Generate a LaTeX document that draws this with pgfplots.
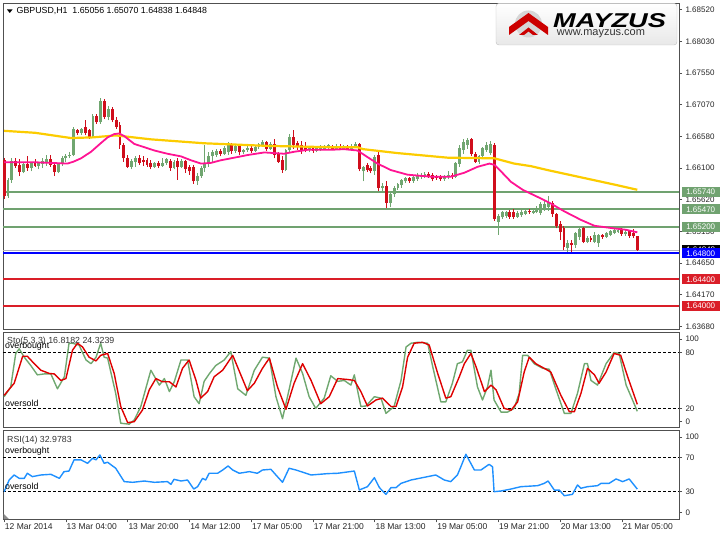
\documentclass[border=0pt]{standalone}
\usepackage{pgfplots}
\pgfplotsset{compat=1.18}
\usepackage{pgfplotstable}
\usepackage{fontspec}
\setmainfont{Liberation Sans}

\definecolor{upg}{RGB}{112,166,112}
\definecolor{dnr}{RGB}{208,14,28}
\definecolor{maY}{RGB}{252,204,0}
\definecolor{maP}{RGB}{255,20,147}
\definecolor{lvg}{RGB}{112,162,112}
\definecolor{lvb}{RGB}{0,0,255}
\definecolor{lvr}{RGB}{218,30,40}
\definecolor{frm}{RGB}{80,80,80}
\definecolor{stk}{RGB}{112,168,112}
\definecolor{std}{RGB}{222,0,0}
\definecolor{rsi}{RGB}{30,144,255}
\definecolor{bidg}{RGB}{175,175,190}

% rising candles (close >= open)
\pgfplotstableread{
x o h l c
1 1.6567 1.6595 1.6565 1.6592
2 1.6592 1.6625 1.6588 1.6620
5 1.6604 1.6618 1.6602 1.6616
7 1.6610 1.6620 1.6605 1.6618
9 1.6614 1.6620 1.6608 1.6617
10 1.6617 1.6626 1.6610 1.6620
11 1.6620 1.6630 1.6614 1.6624
14 1.6604 1.6618 1.6602 1.6616
15 1.6616 1.6628 1.6614 1.6625
16 1.6625 1.6632 1.6620 1.6628
17 1.6628 1.6635 1.6625 1.6630
18 1.6630 1.6673 1.6628 1.6670
20 1.6663 1.6672 1.6660 1.6670
23 1.6658 1.6693 1.6656 1.6690
25 1.6680 1.6717 1.6678 1.6712
27 1.6688 1.6705 1.6683 1.6700
33 1.6612 1.6624 1.6608 1.6620
34 1.6620 1.6628 1.6612 1.6625
39 1.6612 1.6620 1.6610 1.6617
41 1.6614 1.6625 1.6612 1.6618
42 1.6618 1.6626 1.6615 1.6623
44 1.6610 1.6622 1.6608 1.6619
46 1.6612 1.6624 1.6610 1.6620
50 1.6590 1.6602 1.6585 1.6598
51 1.6598 1.6613 1.6595 1.6610
52 1.6610 1.6645 1.6604 1.6618
53 1.6618 1.6635 1.6612 1.6628
54 1.6628 1.6638 1.6620 1.6634
55 1.6630 1.6640 1.6627 1.6636
57 1.6632 1.6644 1.6630 1.6640
58 1.6634 1.6650 1.6630 1.6645
60 1.6636 1.6646 1.6633 1.6643
62 1.6634 1.6640 1.6631 1.6638
63 1.6638 1.6644 1.6635 1.6641
65 1.6636 1.6645 1.6634 1.6642
66 1.6642 1.6648 1.6639 1.6646
67 1.6646 1.6653 1.6643 1.6650
69 1.6640 1.6650 1.6638 1.6647
73 1.6607 1.6640 1.6605 1.6637
74 1.6637 1.6662 1.6635 1.6658
79 1.6637 1.6644 1.6634 1.6641
81 1.6636 1.6643 1.6634 1.6640
82 1.6638 1.6645 1.6636 1.6642
83 1.6640 1.6646 1.6638 1.6643
84 1.6641 1.6647 1.6639 1.6645
86 1.6640 1.6647 1.6638 1.6644
88 1.6640 1.6646 1.6638 1.6643
90 1.6640 1.6647 1.6638 1.6644
91 1.6644 1.6650 1.6641 1.6646
93 1.6605 1.6613 1.6590 1.6611
96 1.6605 1.6630 1.6600 1.6627
98 1.6580 1.6588 1.6575 1.6583
100 1.6557 1.6575 1.6550 1.6570
101 1.6570 1.6582 1.6566 1.6580
102 1.6580 1.6588 1.6577 1.6585
103 1.6584 1.6594 1.6580 1.6592
104 1.6590 1.6597 1.6587 1.6594
106 1.6591 1.6599 1.6588 1.6596
107 1.6594 1.6602 1.6591 1.6599
108 1.6597 1.6603 1.6594 1.6600
109 1.6598 1.6604 1.6595 1.6601
114 1.6594 1.6599 1.6591 1.6597
115 1.6596 1.6606 1.6593 1.6600
117 1.6597 1.6620 1.6595 1.6617
118 1.6617 1.6645 1.6612 1.6640
119 1.6638 1.6654 1.6632 1.6650
120 1.6645 1.6656 1.6640 1.6653
123 1.6620 1.6630 1.6617 1.6628
124 1.6628 1.6642 1.6625 1.6640
125 1.6638 1.6650 1.6635 1.6645
126 1.6633 1.6652 1.6630 1.6646
128 1.6528 1.6540 1.6508 1.6537
129 1.6535 1.6545 1.6532 1.6543
130 1.6537 1.6545 1.6534 1.6542
133 1.6536 1.6544 1.6534 1.6541
134 1.6538 1.6546 1.6536 1.6543
135 1.6540 1.6547 1.6538 1.6544
137 1.6542 1.6548 1.6540 1.6545
138 1.6543 1.6552 1.6541 1.6547
139 1.6542 1.6558 1.6538 1.6555
140 1.6548 1.6562 1.6545 1.6555
141 1.6550 1.6567 1.6545 1.6558
146 1.6488 1.6500 1.6482 1.6496
148 1.6492 1.6513 1.6488 1.6510
149 1.6505 1.6520 1.6500 1.6517
151 1.6498 1.6506 1.6495 1.6503
153 1.6497 1.6512 1.6495 1.6508
154 1.6495 1.6510 1.6490 1.6507
156 1.6505 1.6513 1.6503 1.6510
157 1.6508 1.6516 1.6506 1.6513
158 1.6511 1.6519 1.6509 1.6515
159 1.6513 1.6519 1.6511 1.6516
161 1.6510 1.6515 1.6507 1.6512
}\upC

% falling candles (close < open)
\pgfplotstableread{
x o h l c
0 1.6622 1.6625 1.6563 1.6567
3 1.6620 1.6626 1.6610 1.6614
4 1.6614 1.6624 1.6598 1.6604
6 1.6616 1.6628 1.6606 1.6610
8 1.6618 1.6624 1.6612 1.6614
12 1.6624 1.6630 1.6612 1.6615
13 1.6615 1.6618 1.6598 1.6604
19 1.6668 1.6670 1.6660 1.6663
21 1.6672 1.6684 1.6660 1.6664
22 1.6668 1.6670 1.6655 1.6658
24 1.6690 1.6693 1.6678 1.6680
26 1.6712 1.6715 1.6685 1.6688
28 1.6700 1.6703 1.6680 1.6683
29 1.6683 1.6688 1.6670 1.6673
30 1.6675 1.6680 1.6640 1.6645
31 1.6645 1.6648 1.6620 1.6625
32 1.6625 1.6630 1.6610 1.6612
35 1.6625 1.6630 1.6615 1.6618
36 1.6622 1.6628 1.6614 1.6620
37 1.6622 1.6626 1.6612 1.6615
38 1.6618 1.6622 1.6608 1.6612
40 1.6617 1.6621 1.6610 1.6614
43 1.6620 1.6624 1.6606 1.6610
45 1.6620 1.6626 1.6592 1.6612
47 1.6620 1.6623 1.6603 1.6608
48 1.6612 1.6615 1.6600 1.6605
49 1.6612 1.6615 1.6586 1.6590
56 1.6636 1.6640 1.6628 1.6632
59 1.6645 1.6648 1.6632 1.6636
61 1.6643 1.6646 1.6630 1.6634
64 1.6641 1.6644 1.6633 1.6636
68 1.6650 1.6652 1.6636 1.6640
70 1.6647 1.6655 1.6625 1.6630
71 1.6632 1.6635 1.6618 1.6620
72 1.6622 1.6628 1.6603 1.6607
75 1.6658 1.6668 1.6640 1.6645
76 1.6648 1.6652 1.6638 1.6642
77 1.6645 1.6652 1.6632 1.6636
78 1.6640 1.6650 1.6634 1.6637
80 1.6641 1.6644 1.6633 1.6636
85 1.6643 1.6646 1.6637 1.6640
87 1.6644 1.6647 1.6637 1.6640
89 1.6643 1.6646 1.6637 1.6640
92 1.6646 1.6648 1.6605 1.6608
94 1.6614 1.6618 1.6604 1.6607
95 1.6610 1.6613 1.6602 1.6605
97 1.6630 1.6637 1.6575 1.6580
99 1.6583 1.6590 1.6549 1.6557
105 1.6594 1.6597 1.6588 1.6591
110 1.6601 1.6604 1.6595 1.6598
111 1.6600 1.6603 1.6590 1.6594
112 1.6597 1.6600 1.6592 1.6595
113 1.6597 1.6600 1.6591 1.6594
116 1.6600 1.6603 1.6594 1.6597
121 1.6654 1.6656 1.6628 1.6632
122 1.6632 1.6635 1.6618 1.6620
127 1.6645 1.6648 1.6529 1.6532
131 1.6543 1.6546 1.6533 1.6536
132 1.6542 1.6548 1.6533 1.6536
136 1.6545 1.6547 1.6540 1.6543
142 1.6556 1.6560 1.6536 1.6540
143 1.6540 1.6542 1.6518 1.6521
144 1.6525 1.6530 1.6500 1.6512
145 1.6518 1.6522 1.6485 1.6490
147 1.6495 1.6500 1.6482 1.6492
150 1.6518 1.6520 1.6495 1.6498
152 1.6503 1.6506 1.6497 1.6500
155 1.6507 1.6510 1.6502 1.6505
160 1.6516 1.6518 1.6507 1.6510
162 1.6514 1.6516 1.6504 1.6507
163 1.6510 1.6517 1.6503 1.6506
164 1.65056 1.65070 1.64838 1.64848
}\dnC

\pgfplotsset{
  panel/.style={
    anchor=south west, scale only axis, width=676pt,
    xmin=-0.3, xmax=174.8,
    axis line style={draw=frm, line width=0.8pt},
    ytick pos=right, yticklabel pos=right,
    tick align=outside, major tick length=3pt,
    tick style={draw=frm, line width=0.6pt},
    /pgf/number format/assume math mode=true,
    tick label style={font=\fontsize{8}{9}\selectfont, text=black!85},
  },
  mainlim/.style={at={(3pt,207pt)}, height=326pt, ymin=1.63644, ymax=1.68622},
  lvl/.style={dash pattern=on 3pt off 2pt, black, line width=0.8pt},
}

\begin{document}
\begin{tikzpicture}[x=1pt,y=1pt]
\path (0,0) rectangle (720,536);

% ---------------- main price panel: frame, scale, levels ----------------
\begin{axis}[panel, mainlim,
  xtick=\empty,
  ytick={1.6368,1.6417,1.6465,1.6513,1.6562,1.6610,1.6658,1.6707,1.6755,1.6803,1.6852},
  yticklabels={1.63680,1.64170,1.64650,1.65130,1.65620,1.66100,1.66580,1.67070,1.67550,1.68030,1.68520},
]
\addplot[draw=lvg, line width=2pt] coordinates {(-0.3,1.6574) (174.8,1.6574)};
\addplot[draw=lvg, line width=2pt] coordinates {(-0.3,1.6547) (174.8,1.6547)};
\addplot[draw=lvg, line width=2pt] coordinates {(-0.3,1.6520) (174.8,1.6520)};
\addplot[draw=bidg, line width=1.3pt] coordinates {(-0.3,1.64848) (174.8,1.64848)};
\addplot[draw=lvb, line width=2pt] coordinates {(-0.3,1.6480) (174.8,1.6480)};
\addplot[draw=lvr, line width=2pt] coordinates {(-0.3,1.6440) (174.8,1.6440)};
\addplot[draw=lvr, line width=2pt] coordinates {(-0.3,1.6400) (174.8,1.6400)};
\coordinate (g1) at (axis cs:174.8,1.6574);
\coordinate (g2) at (axis cs:174.8,1.6547);
\coordinate (g3) at (axis cs:174.8,1.6520);
\coordinate (bk) at (axis cs:174.8,1.64848);
\coordinate (b1) at (axis cs:174.8,1.6480);
\coordinate (r1) at (axis cs:174.8,1.6440);
\coordinate (r2) at (axis cs:174.8,1.6400);
\end{axis}

% ---------------- main price panel: candles and averages ----------------
\begin{axis}[panel, mainlim, hide axis]
\addplot[draw=upg, line width=1pt, quiver={u=0, v=\thisrow{h}-\thisrow{l}}]
  table[x=x, y=l] {\upC};
\addplot[draw=dnr, line width=1pt, quiver={u=0, v=\thisrow{h}-\thisrow{l}}]
  table[x=x, y=l] {\dnC};
\addplot[draw=upg, line width=2.9pt, quiver={u=0, v=\thisrow{c}-\thisrow{o}+0.00003}]
  table[x=x, y=o] {\upC};
\addplot[draw=dnr, line width=2.9pt, quiver={u=0, v=\thisrow{o}-\thisrow{c}+0.00003}]
  table[x=x, y=c] {\dnC};
\addplot[maY, line width=2.2pt, line join=round] coordinates {
(0,1.6667)(8,1.6664)(17.3,1.6656)(23,1.6657)(28.9,1.6660)(32,1.6658)(38,1.6654)
(51.8,1.6648)(60,1.6646)(68.2,1.6644)(84.6,1.6642)(91.5,1.6642)(93,1.6639)
(101.9,1.6633)(114.9,1.6626)(127,1.6625)(132.1,1.6617)(136.5,1.6613)(140.8,1.6607)
(149.4,1.6596)(158,1.6585)(164,1.6577)};
\addplot[maP, line width=1.8pt, line join=round] coordinates {
(0,1.6619)(8,1.6619)(16.4,1.6617)(18,1.6620)(19.9,1.6625)(22.5,1.6635)(25,1.6648)
(26.8,1.6657)(28.5,1.6662)(29.8,1.6663)(31.1,1.6659)(32.4,1.6653)(33.7,1.6647)
(36.3,1.6642)(38.9,1.6637)(42.3,1.6632)(45.8,1.6628)(48.4,1.6622)(51,1.6617)
(53.5,1.6618)(56.1,1.6622)(59.6,1.6626)(63,1.6630)(67.4,1.6634)(70,1.6633)
(72.5,1.6632)(75.1,1.6635)(78.6,1.6638)(84.6,1.6638)(88,1.6639)(91.5,1.6637)
(93.3,1.6630)(96.7,1.6617)(100.2,1.6607)(104.5,1.6600)(110.5,1.6597)(115.7,1.6597)
(119.2,1.6603)(122.6,1.6612)(125.7,1.6617)(127,1.6615)(128.7,1.6605)(131.3,1.6589)
(134.3,1.6577)(138.2,1.6566)(141.6,1.6556)(145.1,1.6544)(149.4,1.6531)(152.9,1.6522)
(158,1.6518)(161,1.6516)(164,1.6512)};
\end{axis}

% ---------------- stochastic panel ----------------
\begin{axis}[panel,
  at={(3pt,108.3pt)}, height=95.4pt,
  ymin=-0.8, ymax=101.75,
  xtick=\empty,
  ytick={5.6,20,80,94.3}, yticklabels={0,20,80,100},
]
\addplot[lvl] coordinates {(-0.3,80) (174.8,80)};
\addplot[lvl] coordinates {(-0.3,20) (174.8,20)};
\addplot[stk, line width=1.4pt, line join=round] coordinates {
(0,32.5)(1.7,43)(3,79)(3.9,84)(5.2,75)(6.9,66)(8.6,56)(10.4,57)(12.1,57)(13.8,41)
(15.6,54)(16.8,90)(17.7,90)(19.4,88)(21.2,72)(22.5,68)(23.8,75)(25,90)(25.9,75)
(26.8,74)(28.9,36)(30.2,4)(32.4,3)(33.7,7.5)(35.4,22)(38,61)(40.2,45)(41.5,52)
(42.8,38)(44.1,49)(45.8,72)(47.5,72)(49.2,32.5)(50.5,25)(51.8,49)(53.1,57)(54.8,66)
(57,72)(58.7,81)(60.5,41)(62.6,34)(64.8,61)(66.9,75)(68.7,74)(70.4,32.5)(72.1,9)
(73.8,40)(75.6,74)(77.3,57.5)(79,32.5)(80.7,20)(82.9,31)(84.6,55)(86.4,49)(88.1,50)
(89.8,45)(90.7,56)(92.4,22)(93.7,22.5)(95.9,32.5)(97.6,31)(98.9,14.6)(101,22)
(102.8,50)(104.1,86)(105.4,90)(107.1,91)(109.7,90)(111,65)(113.1,27)(114.4,27)
(116.1,47)(117.4,68)(118.7,70)(120,82.5)(120.9,82.5)(122.6,43)(123.9,29)(125.2,43)
(126.1,61)(126.9,29)(128.7,16)(130.4,16)(132.1,20)(133.4,36)(134.3,77)(135.6,77)
(137.3,68)(139.5,63)(141.2,62)(143.3,36)(145.1,14.6)(146.8,14.6)(148.5,36)
(150.3,68)(151.1,68)(152,50)(153.7,45)(155.9,68)(158,80)(159.3,79)(161.1,45)
(162.4,32.5)(164,16.8)};
\addplot[std, line width=1.4pt, line join=round] coordinates {
(0,34)(2.6,47)(4.8,76)(6,76)(7.8,68)(9.5,61)(11.7,57.5)(13,57)(14.7,50)(16,52)
(17.7,82.5)(19,90)(20.3,86)(22,75)(23.8,71)(25,77)(26.8,79)(28.5,57.5)(30.2,22)
(32,4.6)(33.7,5.7)(35.8,18)(37.6,40)(39.3,52)(41,48.6)(42.8,48.6)(44.5,43)(46.2,63)
(47.9,72)(49.7,50)(50.9,31)(52.7,38)(54.4,54)(56.6,61)(59.2,77)(61.3,56)(63,39)
(64.8,47)(66.9,63)(68.7,74)(70.8,43)(73,19)(75.1,47)(77.3,68)(79.5,50)(82,25)
(84.2,32.5)(86.4,52)(89,51)(90.7,50)(92.4,38)(94.1,22.5)(96.3,29)(98,31)(100.2,22)
(101.5,22)(103.2,43)(104.5,75)(106.2,90)(108.4,91)(110.1,88)(112.3,57.5)(114.4,31)
(115.7,32.5)(117.9,54)(119.2,68)(120.9,79)(122.2,65)(124.4,38)(126.1,45)(127.4,40)
(129.5,20)(131.3,18)(133,27)(134.7,59)(136,75)(137.7,68)(139.9,63)(141.6,59)
(144.2,34)(146.4,16.4)(147.7,16.4)(149.4,36)(151.1,63)(152.9,56)(154.1,47)
(155.9,59)(158,79)(159.7,77)(161.5,54)(164,24.3)};
\end{axis}

% ---------------- RSI panel ----------------
\begin{axis}[panel,
  at={(3pt,16.7pt)}, height=89.3pt,
  ymin=-2.1, ymax=101.7,
  ytick={5.6,30,70,93.3}, yticklabels={0,30,70,100},
  xtick={0,16,32,48,64,80,96,112,128,144,160},
  xticklabels={12 Mar 2014,13 Mar 04:00,13 Mar 20:00,14 Mar 12:00,17 Mar 05:00,17 Mar 21:00,18 Mar 13:00,19 Mar 05:00,19 Mar 21:00,20 Mar 13:00,21 Mar 05:00},
  xtick pos=bottom,
  xticklabel style={anchor=north west, inner sep=0pt, xshift=0.6pt, yshift=-1.2pt, font=\fontsize{8.5}{9}\selectfont},
]
\addplot[lvl] coordinates {(-0.3,70) (174.8,70)};
\addplot[lvl] coordinates {(-0.3,30) (174.8,30)};
\addplot[rsi, line width=1.4pt, line join=round] coordinates {
(0,30)(1.3,43.6)(2.6,49.4)(3.9,45.5)(5.2,45.5)(6,51.4)(7.3,47.5)(9.5,49.4)(12.1,50.2)
(14.3,45.5)(15.5,53.3)(16.8,54)(18.1,67)(19.9,67)(21.6,63)(22.9,68.8)(23.8,67)
(24.8,72.7)(25.9,63)(26.8,64.2)(28.9,57.2)(31.1,41.7)(33.3,40.9)(36.3,42.4)
(38.9,40.9)(42.3,41.7)(43.2,38.5)(44,44.4)(45.8,42.4)(47.5,43.6)(49.1,33.1)
(50.1,35.8)(51.4,45.5)(52.2,43.6)(53.1,51.4)(55.3,51.4)(56.6,55.2)(58,59.9)
(59.2,55.2)(60.9,51.4)(63.5,53.3)(65.6,51.4)(66.9,55.2)(69.1,56)(70.4,49.4)
(72.1,40.9)(73.8,57.2)(75.6,55.2)(79.5,49.4)(83.8,51)(86.4,51.4)(90.7,54)(92,32)
(94.1,35.8)(95.9,46.3)(97.2,34.7)(98.9,26.9)(100.2,34.7)(101.5,34.7)(102.8,39.7)
(105.4,43.6)(109.7,47.5)(111.8,49.4)(114,43.6)(115.7,41.7)(117.4,49.4)(118.3,59)
(119.6,73.5)(121.8,55.2)(123.5,55.2)(125.6,61.8)(126.5,59)(126.9,30)(128.7,30.8)
(131.3,33.1)(133.8,35.8)(138.2,37)(139.9,39.7)(140.9,42.4)(142.5,31.9)(143.8,31.9)
(145.1,25.3)(147.2,26.9)(148.5,37.8)(149.4,34)(151.1,35.8)(153.7,37)(154.6,39.7)
(156.7,39.7)(158.5,44.8)(160.2,41.7)(161.9,44.8)(162.8,39.7)(164,33)};
\end{axis}

% ---------------- price labels on the right ----------------
\tikzset{plab/.style={anchor=west, inner sep=0pt, minimum width=38pt, minimum height=10pt,
  text=white, font=\fontsize{8}{9}\selectfont}}
\node[plab, fill=black] at ([xshift=2.5pt]bk) {1.64848};
\node[plab, fill=lvg] at ([xshift=2.5pt]g1) {1.65740};
\node[plab, fill=lvg] at ([xshift=2.5pt]g2) {1.65470};
\node[plab, fill=lvg] at ([xshift=2.5pt]g3) {1.65200};
\node[plab, fill=lvb] at ([xshift=2.5pt]b1) {1.64800};
\node[plab, fill=lvr] at ([xshift=2.5pt]r1) {1.64400};
\node[plab, fill=lvr] at ([xshift=2.5pt]r2) {1.64000};

% ---------------- texts ----------------
\fill[black] (7,526.5) -- (12.5,526.5) -- (9.75,523) -- cycle;
\node[anchor=west, inner sep=0pt, font=\fontsize{8.8}{10}\selectfont] at (16.5,525.5)
  {GBPUSD,H1\ \ 1.65056 1.65070 1.64838 1.64848};

\node[anchor=west, inner sep=0pt, font=\fontsize{8.8}{10}\selectfont, text=black!80] at (7,194.3) {Sto(5,3,3) 16.8182 24.3239};
\node[anchor=west, inner sep=0pt, font=\fontsize{8.8}{10}\selectfont] at (5,189.3) {overbought};
\node[anchor=west, inner sep=0pt, font=\fontsize{8.8}{10}\selectfont] at (5,132.3) {oversold};

\node[anchor=west, inner sep=0pt, font=\fontsize{8.8}{10}\selectfont, text=black!80] at (7,96) {RSI(14) 32.9783};
\node[anchor=west, inner sep=0pt, font=\fontsize{8.8}{10}\selectfont] at (5,84.5) {overbought};
\node[anchor=west, inner sep=0pt, font=\fontsize{8.8}{10}\selectfont] at (5,49.5) {oversold};

\fill[black!45] (3.5,17) -- (9,17) -- (3.5,22.5) -- cycle;

% ---------------- logo ----------------
\draw[draw=black!25, rounded corners=3pt, top color=white, bottom color=black!9] (496,491) rectangle (677,532.6);
\fill[black!16] (528.5,512) circle (13.5pt);
\fill[red!80!black] (509,509) -- (528.5,523) -- (548,509) -- (548,501) -- (528.5,515) -- (509,501) -- cycle;
\fill[red!80!black] (519,501) -- (528.5,508.5) -- (538,501) -- (533,501) -- (528.5,504.5) -- (524,501) -- cycle;
\node[xscale=1.36, inner sep=0pt, font=\fontsize{20}{22}\selectfont\bfseries\itshape] at (609.5,515.5) {MAYZUS};
\node[inner sep=0pt, text=black!80, font=\fontsize{11}{12}\selectfont] at (601,502) {www.mayzus.com};
\end{tikzpicture}
\end{document}
